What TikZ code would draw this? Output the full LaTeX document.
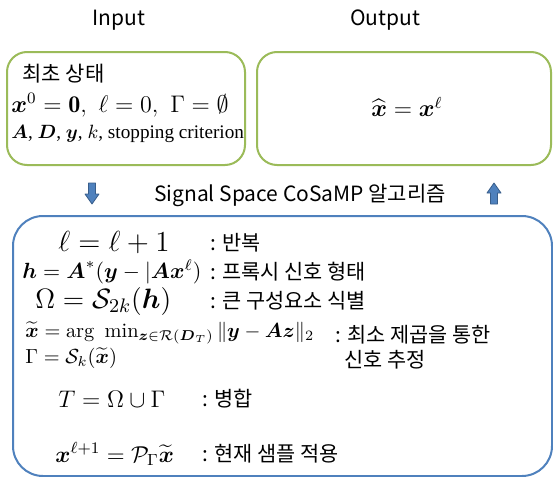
\RequirePackage{fix-cm}
\documentclass[tikz,border=0pt]{standalone}
\usepackage{amsmath,amssymb}
\usepackage{fontspec}
\newfontfamily\kor{Noto Sans CJK KR}
\newfontfamily\timesfont{Liberation Serif}

\definecolor{boxgreen}{RGB}{155,187,89}
\definecolor{boxblue}{RGB}{79,129,189}
\definecolor{arrowedge}{RGB}{56,93,138}

\tikzset{
  roundbox/.style={draw=boxgreen, line width=1pt, rounded corners=10pt, inner sep=0pt, minimum height=56.5pt},
  algobox/.style={draw=boxblue, line width=1pt, rounded corners=15pt, inner sep=0pt, minimum width=269.5pt, minimum height=130pt},
  flowarrow/.style={fill=boxblue, draw=arrowedge, line width=0.4pt, line join=round},
  heading/.style={font=\kor\fontsize{10.5}{12}\selectfont},
  korlabel/.style={anchor=west, inner sep=0pt, font=\kor\fontsize{10.4}{12}\selectfont},
  formula/.style={anchor=west, inner sep=0pt}
}

\begin{document}
\begin{tikzpicture}[x=0.5pt,y=-0.5pt]
\useasboundingbox (0,0) rectangle (553,477);
% boxes
\node[roundbox, minimum width=119pt] (inbox) at (126,108.5) {};
\node[roundbox, minimum width=147pt] (outbox) at (404,108.5) {};
\node[algobox] (algbox) at (282.5,346) {};
% titles
\node[heading] (intitle) at (119,20) {Input};
\node[heading] (outtitle) at (385,20) {Output};
\node[heading, anchor=west] (algtitle) at (147,195) {Signal Space CoSaMP 알고리즘};
% block arrows
\coordinate (down) at (92,183);
\coordinate (up) at (494,204);
\filldraw[flowarrow] (down) ++(-3.5,0) -- ++(7,0) -- ++(0,11) -- ++(3.5,0) -- ++(-7,10) -- ++(-7,-10) -- ++(3.5,0) -- cycle;
\filldraw[flowarrow] (up) ++(-3.5,0) -- ++(7,0) -- ++(0,-11) -- ++(3.5,0) -- ++(-7,-10) -- ++(-7,10) -- ++(3.5,0) -- cycle;
% input
\node[korlabel, font=\kor\fontsize{10.5}{12}\selectfont] (init) at (22,74) {최초 상태};
\node[formula, font=\fontsize{12}{14}\selectfont] (initvals) at (11,105) {$\boldsymbol{x}^0=\mathbf{0},\ \ell=0,\ \Gamma=\emptyset$};
\node[formula, font=\timesfont\fontsize{9.6}{12}\selectfont] (inputs) at (11,134) {$\boldsymbol{A}$, $\boldsymbol{D}$, $\boldsymbol{y}$, $k$, stopping criterion};
% output
\node[font=\fontsize{12}{14}\selectfont] (result) at (407,107) {$\widehat{\boldsymbol{x}}=\boldsymbol{x}^\ell$};
% algorithm steps
\node[formula, font=\fontsize{14.5}{16}\selectfont] (iter) at (58,243) {$\ell=\ell+1$};
\node[formula, font=\fontsize{11}{13}\selectfont] (proxy) at (22,272) {$\boldsymbol{h}=\boldsymbol{A}^*(\boldsymbol{y}-|\boldsymbol{A}\boldsymbol{x}^\ell)$};
\node[formula, font=\fontsize{14}{16}\selectfont] (ident) at (35,301) {$\Omega=\mathcal{S}_{2k}(\boldsymbol{h})$};
\node[formula, font=\fontsize{10.2}{12}\selectfont] (lsq) at (25,333) {$\widetilde{\boldsymbol{x}}=\arg\ \min_{\boldsymbol{z}\in\mathcal{R}(\boldsymbol{D}_T)}\|\boldsymbol{y}-\boldsymbol{A}\boldsymbol{z}\|_2$};
\node[formula, font=\fontsize{10.2}{12}\selectfont] (prune) at (25,358) {$\Gamma=\mathcal{S}_k(\widetilde{\boldsymbol{x}})$};
\node[formula, font=\fontsize{12}{14}\selectfont] (merge) at (58,399) {$T=\Omega\cup\Gamma$};
\node[formula, font=\fontsize{11.5}{14}\selectfont] (update) at (55,454) {$\boldsymbol{x}^{\ell+1}=\mathcal{P}_\Gamma\widetilde{\boldsymbol{x}}$};
% step labels
\node[korlabel] (iterl) at (210,243) {: 반복};
\node[korlabel] (proxyl) at (210,272) {: 프록시 신호 형태};
\node[korlabel] (identl) at (210,301) {: 큰 구성요소 식별};
\node[korlabel] (lsql) at (335,335) {: 최소 제곱을 통한};
\node[korlabel] (lsql2) at (344,360) {신호 추정};
\node[korlabel] (mergel) at (202,399) {: 병합};
\node[korlabel] (updatel) at (202,454) {: 현재 샘플 적용};
\end{tikzpicture}
\end{document}
